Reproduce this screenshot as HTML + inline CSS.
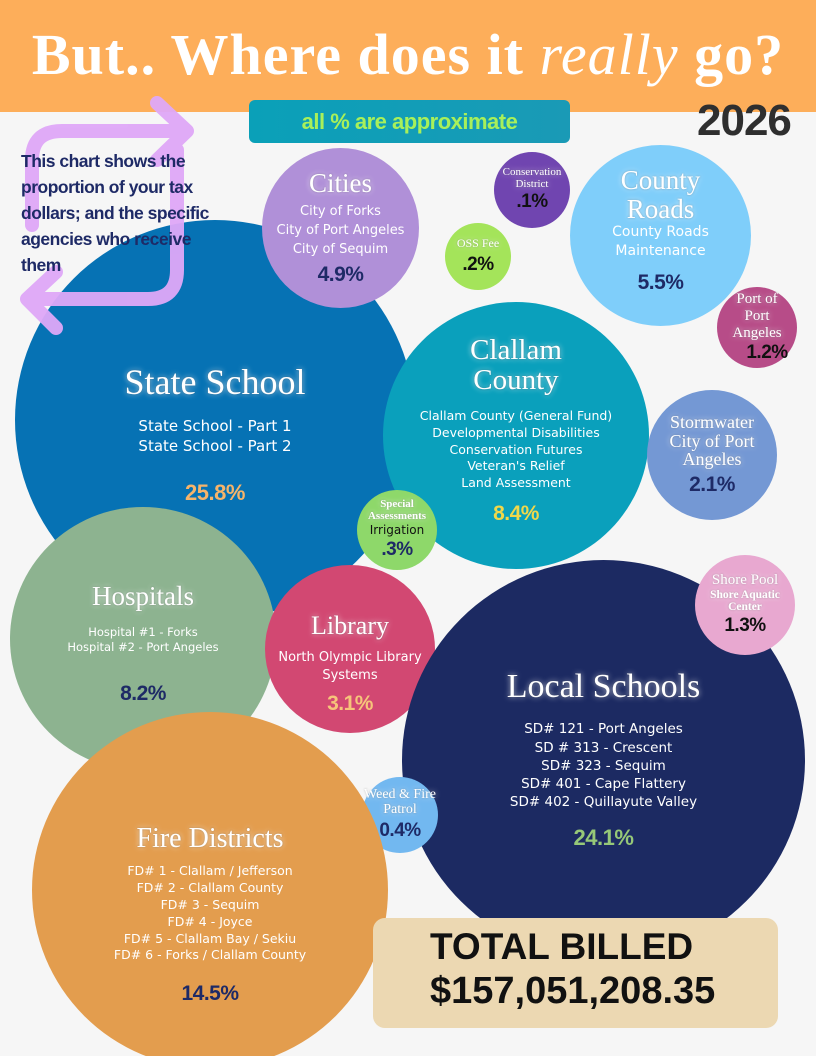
<!DOCTYPE html>
<html style="margin:0;width:816px;height:1056px;overflow:hidden"><head><meta charset="utf-8"><style>
body{margin:0;width:816px;height:1056px;overflow:hidden;background:#f6f6f6;position:relative;font-family:"Liberation Sans",sans-serif}
.hdr{position:absolute;left:0;top:0;width:816px;height:112px;background:#fdae5a}
.title{position:absolute;left:0;top:21px;width:816px;text-align:center;font-family:"Liberation Serif",serif;font-weight:bold;font-size:58px;color:#fff;letter-spacing:1px}
.c{position:absolute;border-radius:50%;display:flex;flex-direction:column;align-items:center;justify-content:center;text-align:center;color:#fff;box-sizing:border-box}
.t{font-family:"Liberation Serif",serif;text-shadow:0 0 6px rgba(255,255,255,.7),0 0 2px rgba(0,0,0,.3);line-height:1.05}
.s{font-family:"DejaVu Sans",sans-serif;line-height:1.35}
.p{font-family:"Liberation Sans Narrow","Liberation Sans",sans-serif;font-weight:bold;letter-spacing:-0.5px}
</style></head><body>
<div class="hdr"></div>
<div class="title">But.. Where does it <i style="font-weight:normal">really</i> go?</div>
<div style="position:absolute;left:249px;top:100px;width:321px;height:43px;background:linear-gradient(90deg,#0aa0b8,#1a9ab6);border-radius:6px;color:#a8f05a;font-weight:bold;font-size:22px;text-align:center;line-height:43px;letter-spacing:-0.5px">all % are approximate</div>
<div style="position:absolute;left:697px;top:96px;font-weight:bold;font-size:44px;color:#2f2f2f;letter-spacing:-1px">2026</div>

<div class="c" style="left:15px;top:220px;width:400px;height:400px;background:#0672b4">
<div class="t" style="font-size:36px;margin-top:30px">State School</div>
<div class="s" style="font-size:15px;margin-top:14px">State School - Part 1<br>State School - Part 2</div>
<div class="p" style="font-size:22px;color:#f6b46a;margin-top:24px">25.8%</div></div>

<svg style="position:absolute;left:0;top:0" width="816" height="400">
<g fill="none" stroke="#dfa8f8" stroke-width="14" stroke-linecap="round" stroke-linejoin="round" opacity=".95">
<path d="M32 225 V160 Q32 131 62 131 H183"/><path d="M157 103 L187 131 L157 160"/>
<path d="M177 150 V270 Q177 299 148 299 H28"/><path d="M56 272 L27 299 L56 328"/>
</g></svg>
<div style="position:absolute;left:21px;top:148px;width:212px;font-weight:bold;font-size:17.5px;line-height:26px;color:#1e2a66;letter-spacing:-0.5px">This chart shows the proportion of your tax dollars; and the specific agencies who receive them</div>

<div class="c" style="left:262px;top:148px;width:157px;height:160px;background:#b090d8">
<div class="t" style="font-size:27px">Cities</div>
<div class="s" style="font-size:13px;margin-top:6px;line-height:1.45">City of Forks<br>City of Port Angeles<br>City of Sequim</div>
<div class="p" style="font-size:21px;color:#1e2a66;margin-top:4px">4.9%</div></div>

<div class="c" style="left:494px;top:152px;width:76px;height:76px;background:#7045b0">
<div class="t" style="font-size:11px">Conservation<br>District</div>
<div class="p" style="font-size:19px;color:#111">.1%</div></div>

<div class="c" style="left:445px;top:223px;width:66px;height:67px;background:#a4e45a">
<div class="t" style="font-size:12px">OSS Fee</div>
<div class="p" style="font-size:19px;color:#111;margin-top:4px">.2%</div></div>

<div class="c" style="left:570px;top:145px;width:181px;height:181px;background:#7fcefa">
<div class="t" style="font-size:27px;margin-top:-10px">County<br>Roads</div>
<div class="s" style="font-size:14px">County Roads<br>Maintenance</div>
<div class="p" style="font-size:21px;color:#1e2a66;margin-top:10px">5.5%</div></div>

<div class="c" style="left:717px;top:287px;width:80px;height:81px;background:#b74c88">
<div class="t" style="font-size:15px;line-height:1.15">Port of<br>Port<br>Angeles</div>
<div class="p" style="font-size:19px;color:#111;margin-left:20px">1.2%</div></div>

<div class="c" style="left:383px;top:302px;width:266px;height:267px;background:#0aa0bc">
<div class="t" style="font-size:29px;margin-top:-10px">Clallam<br>County</div>
<div class="s" style="font-size:12.5px;margin-top:12px">Clallam County (General Fund)<br>Developmental Disabilities<br>Conservation Futures<br>Veteran's Relief<br>Land Assessment</div>
<div class="p" style="font-size:21px;color:#f0d84a;margin-top:10px">8.4%</div></div>

<div class="c" style="left:647px;top:390px;width:130px;height:130px;background:#7498d4">
<div class="t" style="font-size:18px">Stormwater<br>City of Port<br>Angeles</div>
<div class="p" style="font-size:21px;color:#1e2a66;margin-top:4px">2.1%</div></div>

<div class="c" style="left:357px;top:490px;width:80px;height:80px;background:#8ed86a">
<div class="t" style="font-size:11px;font-weight:bold">Special<br>Assessments</div>
<div class="s" style="font-size:12px;color:#111">Irrigation</div>
<div class="p" style="font-size:19px;color:#1e2a66">.3%</div></div>

<div class="c" style="left:10px;top:507px;width:266px;height:264px;background:#8db390">
<div class="t" style="font-size:27px;margin-top:10px">Hospitals</div>
<div class="s" style="font-size:11.5px;margin-top:14px">Hospital #1 - Forks<br>Hospital #2 - Port Angeles</div>
<div class="p" style="font-size:21px;color:#1e2a66;margin-top:26px">8.2%</div></div>

<div class="c" style="left:265px;top:565px;width:170px;height:168px;background:#d24872">
<div class="t" style="font-size:26px;margin-top:30px">Library</div>
<div class="s" style="font-size:13px;margin-top:10px">North Olympic Library<br>Systems</div>
<div class="p" style="font-size:21px;color:#f6c47a;margin-top:8px">3.1%</div></div>

<div class="c" style="left:402px;top:560px;width:403px;height:400px;background:#1c2a62">
<div class="t" style="font-size:34px;margin-top:0px">Local Schools</div>
<div class="s" style="font-size:13.5px;margin-top:16px">SD# 121 - Port Angeles<br>SD # 313 - Crescent<br>SD# 323 - Sequim<br>SD# 401 - Cape Flattery<br>SD# 402 - Quillayute Valley</div>
<div class="p" style="font-size:22px;color:#96c878;margin-top:14px">24.1%</div></div>

<div class="c" style="left:695px;top:555px;width:100px;height:100px;background:#e8a8d0">
<div class="t" style="font-size:15px">Shore Pool</div>
<div class="t" style="font-size:11.5px;font-weight:bold">Shore Aquatic<br>Center</div>
<div class="p" style="font-size:19px;color:#111;margin-top:2px">1.3%</div></div>

<div class="c" style="left:362px;top:777px;width:76px;height:76px;background:#72b8f0">
<div class="t" style="font-size:14px">Weed &amp; Fire<br>Patrol</div>
<div class="p" style="font-size:19px;color:#1e2a66;margin-top:2px">0.4%</div></div>

<div class="c" style="left:32px;top:712px;width:356px;height:356px;background:#e39d4e">
<div class="t" style="font-size:28px;margin-top:50px">Fire Districts</div>
<div class="s" style="font-size:12.5px;margin-top:10px">FD# 1 - Clallam / Jefferson<br>FD# 2 - Clallam County<br>FD# 3 - Sequim<br>FD# 4 - Joyce<br>FD# 5 - Clallam Bay / Sekiu<br>FD# 6 - Forks / Clallam County</div>
<div class="p" style="font-size:21px;color:#1e2a66;margin-top:18px">14.5%</div></div>

<div style="position:absolute;left:373px;top:918px;width:405px;height:110px;background:#ecd8b2;border-radius:12px;font-weight:bold;color:#111">
<div style="position:absolute;left:57px;top:8px;font-size:37px">TOTAL BILLED</div>
<div style="position:absolute;left:57px;top:52px;font-size:38px">$157,051,208.35</div></div>
</body></html>
